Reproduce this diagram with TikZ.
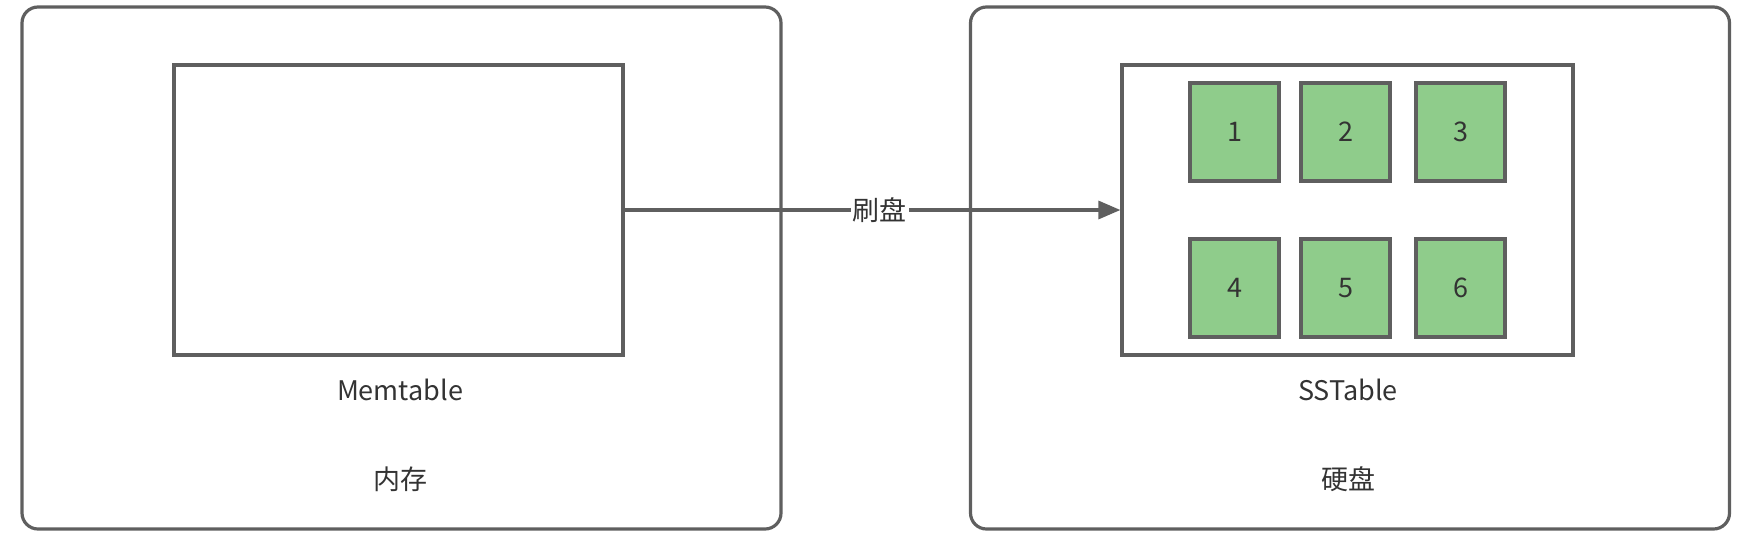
\documentclass[tikz,border=0pt]{standalone}
\usepackage{fontspec}
\setmainfont{Noto Sans CJK SC}
\usetikzlibrary{arrows.meta}
\definecolor{lc}{HTML}{5F5F5F}
\definecolor{gf}{HTML}{8FCC8B}
\definecolor{tc}{HTML}{333333}
\begin{document}
\begin{tikzpicture}[x=0.5pt,y=-0.5pt,
  outer/.style={draw=lc,line width=1.6pt,rounded corners=8pt,minimum width=379.5pt,minimum height=261pt,inner sep=0pt},
  box/.style={draw=lc,line width=1.6pt,minimum height=145pt,inner sep=0pt},
  cell/.style={draw=lc,line width=1.7pt,fill=gf,text=tc,minimum width=44.5pt,minimum height=49pt,inner sep=0pt,font=\fontsize{13.5}{15}\selectfont},
  lbl/.style={text=tc,inner sep=1pt,font=\fontsize{13.5}{15}\selectfont},
  conn/.style={draw=lc,line width=1.6pt,-{Triangle[length=11pt,width=9pt]}}]
\useasboundingbox (0,0) rectangle (1754,542);
\node[outer] (mem) at (401.5,268) {};
\node[outer] (disk) at (1350,268) {};
\node[box,minimum width=224.5pt] (memtable) at (398.5,210) {};
\node[box,minimum width=225.5pt] (sstable) at (1347.5,210) {};
\node[cell] (c1) at (1234.5,132) {1};
\node[cell] (c2) at (1345.5,132) {2};
\node[cell] (c3) at (1460.5,132) {3};
\node[cell] (c4) at (1234.5,288) {4};
\node[cell] (c5) at (1345.5,288) {5};
\node[cell] (c6) at (1460.5,288) {6};
\node[lbl] (lmemtable) at (400,390) {Memtable};
\node[lbl] (lmem) at (400,479) {内存};
\node[lbl] (lsstable) at (1348,390) {SSTable};
\node[lbl] (ldisk) at (1348,479) {硬盘};
\draw[conn] (memtable.east) -- node[pos=0.515,fill=white,text=tc,inner sep=1pt,font=\fontsize{13.5}{15}\selectfont] (flush) {刷盘} (sstable.west);
\end{tikzpicture}
\end{document}
